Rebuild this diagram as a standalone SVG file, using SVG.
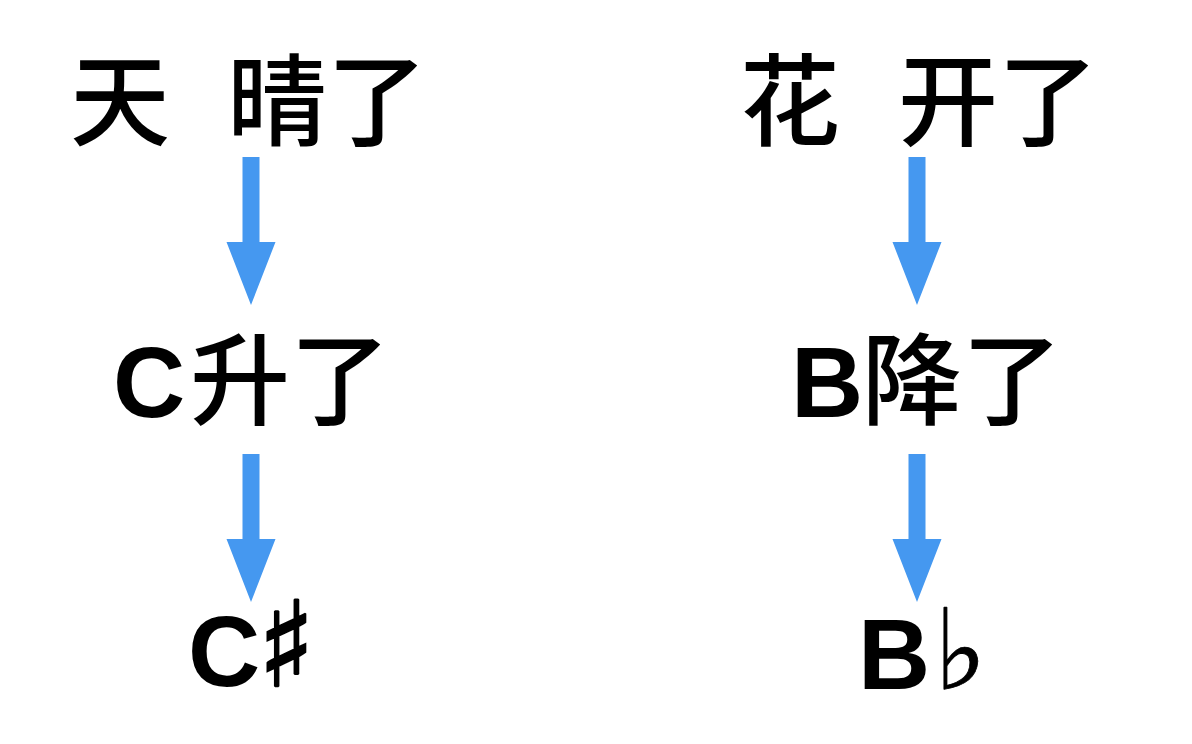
<svg xmlns="http://www.w3.org/2000/svg" width="1192" height="744" viewBox="0 0 1192 744">
<style>
.t{font-family:"Liberation Sans","Noto Sans CJK SC",sans-serif;font-size:100px;fill:#000}
.lat{font-weight:bold}
.han{font-family:"Noto Sans CJK SC",sans-serif;font-weight:500}
.sym{font-family:"DejaVu Sans",sans-serif;font-weight:normal;stroke:#000}
.arrow{fill:#4598F0}
</style>
<defs>
<path id="arr" d="M-8.5,0 H8.5 V85 H24.5 L0,148 L-24.5,85 H-8.5 Z"/>
</defs>
<rect width="1192" height="744" fill="#fff"/>
<g id="node-tianqingle"><text class="t han" x="70" y="138">天 <tspan x="227">晴了</tspan></text></g>
<g id="node-huakaile"><text class="t han" x="740" y="138">花 <tspan x="898">开了</tspan></text></g>
<g id="node-cshengle"><text class="t" y="417"><tspan class="lat" x="113">C</tspan><tspan class="han" x="190">升了</tspan></text></g>
<g id="node-bjiangle"><text class="t" y="417"><tspan class="lat" x="791">B</tspan><tspan class="han" x="862">降了</tspan></text></g>
<g id="node-csharp"><text class="t" y="686"><tspan class="lat" x="188">C</tspan><tspan class="sym" x="258" font-size="118" stroke-width="2.5">♯</tspan></text></g>
<g id="node-bflat"><text class="t" y="689"><tspan class="lat" x="858">B</tspan><tspan class="sym" x="934" font-size="112" stroke-width="0.8">♭</tspan></text></g>
<g id="connectors">
<use href="#arr" class="arrow" x="251" y="157"/>
<use href="#arr" class="arrow" x="251" y="454"/>
<use href="#arr" class="arrow" x="917" y="157"/>
<use href="#arr" class="arrow" x="917" y="454"/>
</g>
</svg>
